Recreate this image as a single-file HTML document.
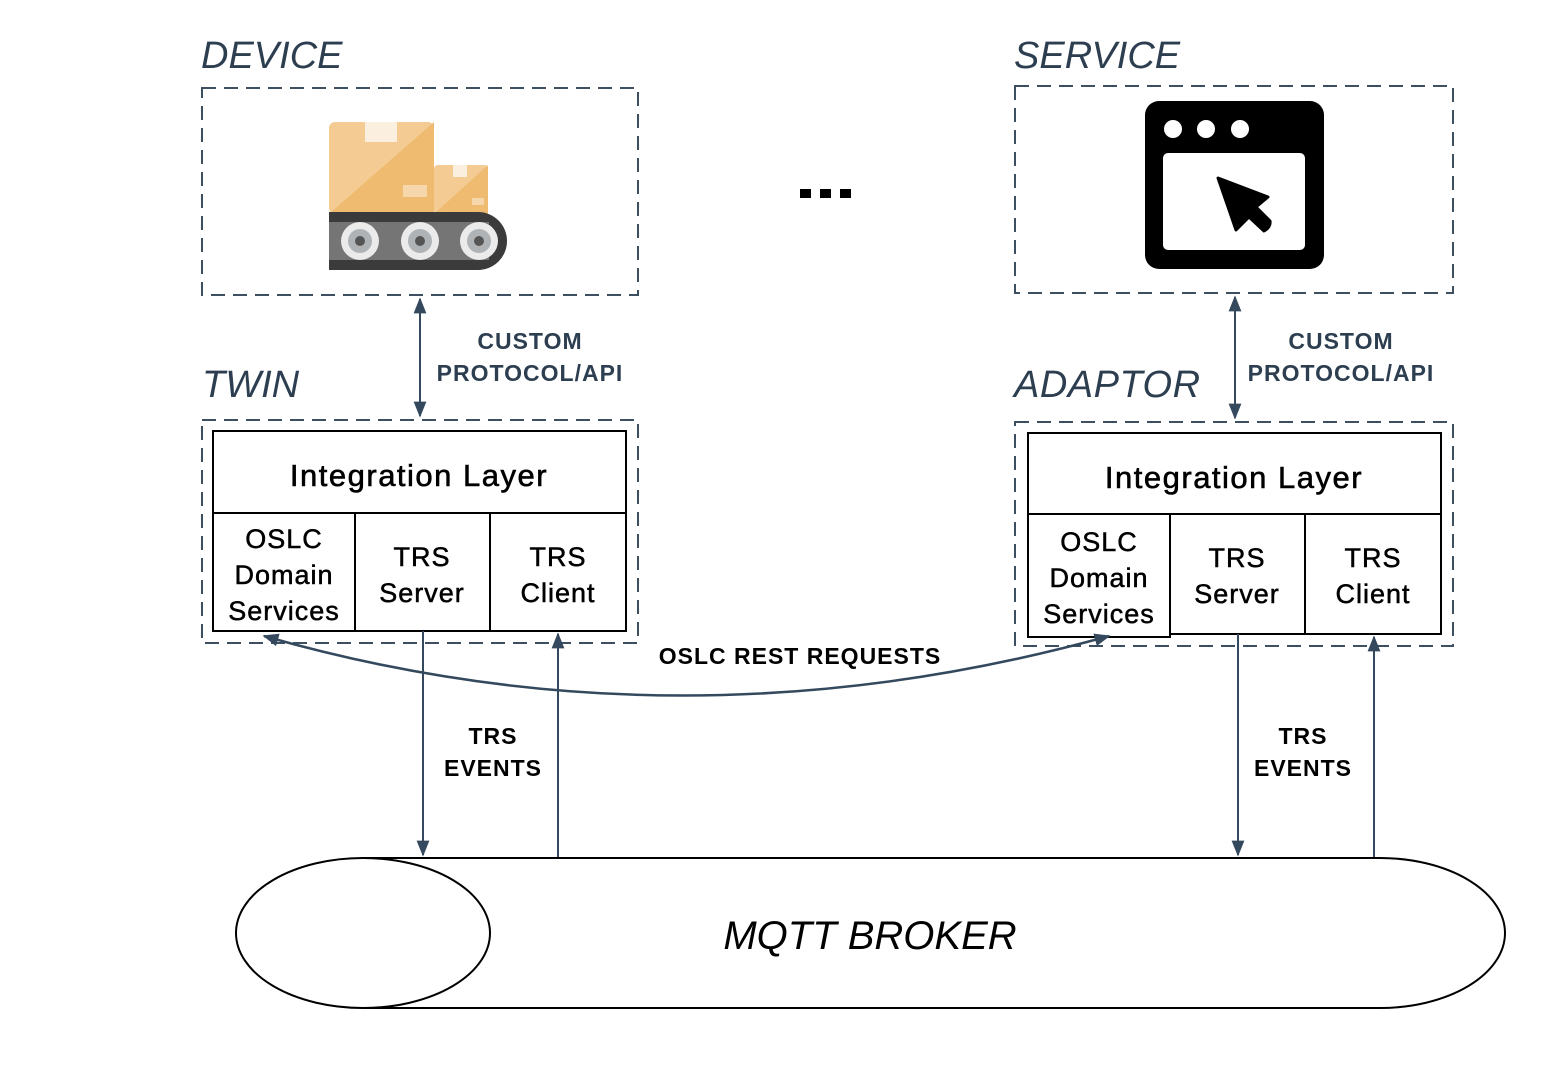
<!DOCTYPE html>
<html><head><meta charset="utf-8"><style>html,body{margin:0;padding:0;background:#fff}svg{display:block}</style></head>
<body>
<svg width="1565" height="1069" viewBox="0 0 1565 1069" xmlns="http://www.w3.org/2000/svg" font-family="Liberation Sans, sans-serif">
<defs>
<marker id="ah2" viewBox="0 0 10 10" refX="9" refY="5" markerWidth="16" markerHeight="16" markerUnits="userSpaceOnUse" orient="auto-start-reverse"><path d="M0,1 L10,5 L0,9 z" fill="#34495e"/></marker>
</defs>
<g fill="#2c3e50" font-style="italic" font-size="38" font-weight="300">
<text x="201" y="68">DEVICE</text>
<text x="1014" y="68">SERVICE</text>
<text x="202" y="397">TWIN</text>
<text x="1014" y="397" letter-spacing="0.5">ADAPTOR</text>
</g>
<g fill="none" stroke="#3d5062" stroke-width="2" stroke-dasharray="14,8">
<rect x="202" y="88" width="436" height="207"/>
<rect x="1015" y="86" width="438" height="207"/>
<rect x="202" y="420" width="436" height="223"/>
<rect x="1015" y="422" width="438" height="224"/>
</g>
<!-- device icon -->
<rect x="329" y="122" width="105" height="92" rx="6" fill="#f3cb93"/>
<path d="M434,122 L434,214 L329,214 Z" fill="#eebb70"/>
<rect x="365" y="122" width="32" height="20" fill="#fbefe0"/>
<rect x="403" y="185" width="24" height="12" fill="#f6d7ab"/>
<rect x="434" y="165" width="54" height="49" rx="4" fill="#f3cb93"/>
<path d="M488,165 L488,214 L434,214 Z" fill="#eebb70"/>
<rect x="453" y="165" width="14" height="12" fill="#fbefe0"/>
<rect x="472" y="198" width="12" height="7" fill="#f6d7ab"/>
<path d="M329,212 L478,212 A29,29 0 0 1 478,270 L329,270 Z" fill="#3b3b3b"/>
<rect x="329" y="222" width="160" height="38" fill="#757575"/>
<g fill="#ebebeb"><circle cx="360" cy="241" r="19"/><circle cx="420" cy="241" r="19"/><circle cx="479" cy="241" r="19"/></g>
<g fill="#b0b3b5"><circle cx="360" cy="241" r="12"/><circle cx="420" cy="241" r="12"/><circle cx="479" cy="241" r="12"/></g>
<g fill="#555"><circle cx="360" cy="241" r="5"/><circle cx="420" cy="241" r="5"/><circle cx="479" cy="241" r="5"/></g>
<!-- dots -->
<g fill="#000"><rect x="800" y="189" width="11" height="9"/><rect x="820" y="189" width="11" height="9"/><rect x="840" y="189" width="11" height="9"/></g>
<!-- service icon -->
<rect x="1145" y="101" width="179" height="168" rx="14" fill="#000"/>
<rect x="1163" y="153" width="142" height="97" rx="5" fill="#fff"/>
<g fill="#fff"><circle cx="1173" cy="129" r="9"/><circle cx="1206" cy="129" r="9"/><circle cx="1240" cy="129" r="9"/></g>
<path d="M1218,178 L1268,197 L1256,207 L1270,221 Q1271,227 1264,231 L1249,217 L1236,230 Z" fill="#000" stroke="#000" stroke-width="3" stroke-linejoin="round"/>
<!-- custom arrows -->
<g stroke="#34495e" stroke-width="2">
<line x1="420" y1="299" x2="420" y2="416" marker-start="url(#ah2)" marker-end="url(#ah2)"/>
<line x1="1235" y1="297" x2="1235" y2="418" marker-start="url(#ah2)" marker-end="url(#ah2)"/>
</g>
<g fill="#2c3e50" font-weight="bold" font-size="23" text-anchor="middle" letter-spacing="1">
<text x="530" y="349">CUSTOM</text><text x="530" y="381">PROTOCOL/API</text>
<text x="1341" y="349">CUSTOM</text><text x="1341" y="381">PROTOCOL/API</text>
</g>
<!-- inner boxes -->
<g fill="#fff" stroke="#000" stroke-width="2">
<rect x="213" y="431" width="413" height="200"/>
<line x1="213" y1="513" x2="626" y2="513"/>
<line x1="355" y1="513" x2="355" y2="631"/>
<line x1="490" y1="513" x2="490" y2="631"/>
<rect x="1028" y="433" width="413" height="201"/>
<line x1="1028" y1="514" x2="1441" y2="514"/>
<rect x="1028" y="514" width="142" height="123"/>
<line x1="1305" y1="514" x2="1305" y2="634"/>
</g>
<g fill="#000" stroke="#000" stroke-width="0.6" font-size="31" text-anchor="middle" letter-spacing="1.5">
<text x="419" y="486">Integration Layer</text>
<text x="1234" y="488">Integration Layer</text>
</g>
<g fill="#000" stroke="#000" stroke-width="0.5" font-size="27" text-anchor="middle" letter-spacing="1">
<text x="284" y="548">OSLC</text><text x="284" y="584">Domain</text><text x="284" y="620">Services</text>
<text x="422" y="566">TRS</text><text x="422" y="602">Server</text>
<text x="558" y="566">TRS</text><text x="558" y="602">Client</text>
<text x="1099" y="551">OSLC</text><text x="1099" y="587">Domain</text><text x="1099" y="623">Services</text>
<text x="1237" y="567">TRS</text><text x="1237" y="603">Server</text>
<text x="1373" y="567">TRS</text><text x="1373" y="603">Client</text>
</g>
<!-- TRS lines -->
<g stroke="#34495e" stroke-width="2">
<line x1="423" y1="631" x2="423" y2="855" marker-end="url(#ah2)"/>
<line x1="558" y1="858" x2="558" y2="634" marker-end="url(#ah2)"/>
<line x1="1238" y1="634" x2="1238" y2="855" marker-end="url(#ah2)"/>
<line x1="1374" y1="858" x2="1374" y2="637" marker-end="url(#ah2)"/>
</g>
<path d="M264,636 Q680,755 1109,636" fill="none" stroke="#34495e" stroke-width="2.5" marker-start="url(#ah2)" marker-end="url(#ah2)"/>
<g fill="#000" font-weight="bold" font-size="23" text-anchor="middle" letter-spacing="1">
<text x="800" y="664">OSLC REST REQUESTS</text>
<text x="493" y="744">TRS</text><text x="493" y="776">EVENTS</text>
<text x="1303" y="744">TRS</text><text x="1303" y="776">EVENTS</text>
</g>
<!-- broker -->
<path d="M363,858 L1380,858 A125,75 0 0 1 1380,1008 L363,1008" fill="none" stroke="#000" stroke-width="2"/>
<ellipse cx="363" cy="933" rx="127" ry="75" fill="#fff" stroke="#000" stroke-width="2"/>
<text x="870" y="949" font-size="40" font-style="italic" font-weight="300" text-anchor="middle" fill="#000">MQTT BROKER</text>
</svg>
</body></html>
